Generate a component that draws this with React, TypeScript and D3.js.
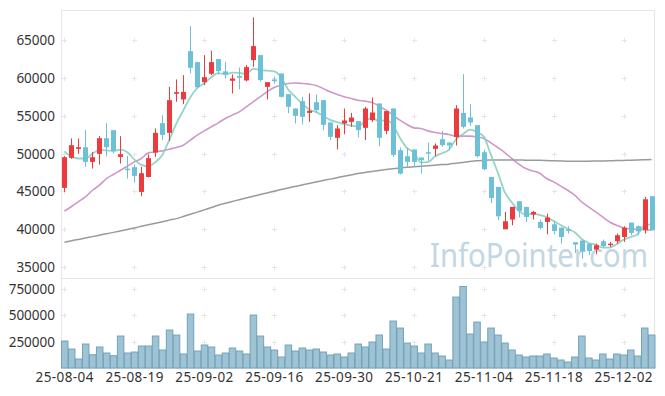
import React from "react";
import * as d3 from "d3";

const dates: string[] = [
  "25-08-04","25-08-05","25-08-06","25-08-07","25-08-08",
  "25-08-11","25-08-12","25-08-13","25-08-14",
  "25-08-18","25-08-19","25-08-20","25-08-21","25-08-22",
  "25-08-25","25-08-26","25-08-27","25-08-28","25-08-29",
  "25-09-01","25-09-02","25-09-03","25-09-04","25-09-05",
  "25-09-08","25-09-09","25-09-10","25-09-11","25-09-12",
  "25-09-15","25-09-16","25-09-17","25-09-18","25-09-19",
  "25-09-22","25-09-23","25-09-24","25-09-25","25-09-26",
  "25-09-29","25-09-30","25-10-01","25-10-02","25-10-10",
  "25-10-13","25-10-14","25-10-15","25-10-16","25-10-17",
  "25-10-20","25-10-21","25-10-22","25-10-23","25-10-24",
  "25-10-27","25-10-28","25-10-29","25-10-30","25-10-31",
  "25-11-03","25-11-04","25-11-05","25-11-06","25-11-07",
  "25-11-10","25-11-11","25-11-12","25-11-13","25-11-14",
  "25-11-17","25-11-18","25-11-19","25-11-20","25-11-21",
  "25-11-24","25-11-25","25-11-26","25-11-27","25-11-28",
  "25-12-01","25-12-02","25-12-03","25-12-04","25-12-05",
  "25-12-08",
];

const opens: number[] = [
  45460, 49430, 50620, 50840, 48900, 49960, 52030, 53090, 49560, 48000,
  48210, 44930, 46910, 50140, 54020, 52740, 57900, 57150, 63545, 62090,
  59440, 60540, 62490, 60860, 59620, 60240, 59670, 62360, 63020, 58820,
  59800, 60590, 57860, 55960, 56930, 55380, 56800, 57060, 54110, 52080,
  53980, 54190, 54290, 53400, 54420, 56620, 53000, 55960, 50450, 49650,
  50540, 49480, 50180, 50620, 51900, 51460, 52170, 55380, 54770, 53760,
  50180, 46910, 45590, 39990, 41280, 43700, 42950, 41940, 40960, 40960,
  40650, 40210, 39960, 38280, 38500, 38090, 37310, 38410, 37970, 38410,
  38970, 40870, 40400, 39860, 44360,
];
const highs: number[] = [
  49650, 52000, 52000, 53090, 50220, 52300, 54020, 53090, 52300, 49700,
  48550, 48240, 49880, 53320, 55080, 58820, 59800, 60370, 66850, 62090,
  63020, 63590, 62490, 62130, 60460, 61390, 61700, 68000, 63020, 59440,
  60150, 60590, 57860, 55960, 57500, 57950, 57820, 57060, 54110, 53760,
  55960, 55380, 54290, 56180, 57420, 56620, 55610, 55960, 50800, 50760,
  50540, 49480, 51460, 51330, 53000, 51460, 56400, 60500, 56530, 53760,
  50540, 46910, 45590, 42290, 42950, 43700, 42950, 42420, 41280, 42070,
  41090, 40210, 40390, 38280, 38600, 38090, 38090, 38630, 38320, 39420,
  40390, 40870, 40500, 44270, 44360,
];
const lows: number[] = [
  44930, 49300, 49950, 48240, 48020, 48550, 49610, 50000, 48680, 46700,
  46170, 44360, 46850, 49560, 51770, 51640, 56840, 56530, 60600, 58610,
  59050, 60370, 60460, 59930, 57950, 58480, 59530, 61470, 59490, 57150,
  59270, 57400, 55320, 53980, 53850, 54190, 55500, 53090, 51770, 50540,
  52560, 53530, 52130, 51770, 54190, 50980, 52560, 49560, 47230, 48160,
  48240, 47360, 49030, 49650, 50900, 50450, 51070, 53320, 53660, 49480,
  47800, 43470, 41180, 39990, 40520, 41540, 40960, 41280, 39960, 39330,
  39330, 38090, 39420, 36870, 36100, 36560, 36690, 37570, 37660, 38090,
  38320, 39200, 39200, 39420, 39860,
];
const closes: number[] = [
  49520, 51110, 50840, 48900, 49520, 52030, 50840, 50350, 49920, 47800,
  47050, 47400, 49390, 52740, 52470, 57060, 58120, 58160, 61340, 58780,
  60100, 62090, 60900, 60460, 59930, 60010, 61430, 64210, 59710, 59440,
  59570, 57500, 56180, 54990, 54860, 55650, 55740, 53800, 52210, 53320,
  54380, 54770, 53090, 55960, 55430, 52080, 55610, 49830, 47360, 48900,
  48900, 49120, 50050, 51070, 51110, 51070, 55960, 53530, 54110, 49650,
  47930, 44130, 41710, 41050, 42950, 42420, 41620, 42290, 40170, 41540,
  39770, 38970, 39770, 37970, 37050, 37120, 37880, 37750, 38090, 39200,
  40210, 39510, 39700, 43960, 39860,
];
const volumes: number[] = [
  254700, 179200, 84900, 226400, 125500, 198100, 141500, 116000, 301900, 141500,
  150900, 207500, 207500, 301900, 169800, 358500, 311300, 132100, 509400, 160400,
  217000, 198100, 122600, 141500, 188700, 160400, 132100, 500000, 301900, 198100,
  169800, 103800, 217000, 160400, 188700, 169800, 179200, 150900, 122600, 132100,
  103800, 141500, 226400, 198100, 245300, 311300, 179200, 443400, 377400, 235800,
  207500, 141500, 226400, 141500, 113200, 75500, 669800, 770000, 320800, 434000,
  245300, 377400, 311300, 235800, 169800, 122600, 103800, 113200, 113200, 132100,
  94300, 75500, 56600, 103800, 301900, 94300, 75500, 132100, 84900, 132100,
  122600, 169800, 113200, 377400, 311300,
];

// MA5 values for the first four sessions (later values use closes)
const ma5Head: number[] = [50300, 49600, 49350, 49350];

const ma20: number[] = [
  42400, 43000, 43650, 44270, 45150, 45820, 46700, 47230, 47800, 48330,
  48900, 49350, 50090, 50220, 50360, 50580, 50800, 51110, 51770, 52430,
  53000, 53530, 54060, 54640, 55080, 55520, 56180, 56840, 57500, 58160,
  58740, 59050, 59270, 59320, 59270, 59180, 59000, 58610, 58160, 57820,
  57500, 57290, 57060, 56930, 56760, 56310, 55740, 55080, 54420, 53850,
  53400, 53320, 53000, 52790, 52650, 52520, 52300, 52300, 52300, 52210,
  52000, 51420, 50800, 50140, 49350, 48600, 48020, 47710, 47400, 46700,
  46260, 45690, 45150, 44500, 43610, 42950, 42290, 41620, 40960, 40520,
  40170, 40040, 39960, 39960, 39860,
];

const ma120: number[] = [
  38280, 38470, 38650, 38840, 39020, 39210, 39400, 39580, 39770, 39970,
  40170, 40380, 40580, 40790, 40990, 41200, 41400, 41680, 41970, 42260,
  42560, 42860, 43170, 43420, 43660, 43900, 44130, 44360, 44580, 44800,
  45020, 45240, 45450, 45650, 45850, 46050, 46240, 46430, 46620, 46810,
  47000, 47180, 47360, 47500, 47640, 47770, 47890, 48000, 48100, 48190,
  48260, 48330, 48400, 48470, 48540, 48600, 48720, 48830, 48940, 49040,
  49120, 49140, 49150, 49150, 49150, 49140, 49130, 49120, 49110, 49080,
  49050, 49020, 49000, 48990, 48990, 49000, 49010, 49030, 49050, 49070,
  49100, 49130, 49160, 49190, 49210,
];

const priceTicks: number[] = [35000, 40000, 45000, 50000, 55000, 60000, 65000];
const volumeTicks: number[] = [250000, 500000, 750000];
const tickEvery = 10;

const W = 665;
const H = 396;
const L = 61;
const R = 655;
const P_TOP = 10;
const P_BOT = 278;
const V_BOT = 368;

const UP = "#ec3b3d";
const DOWN = "#6cc1d6";

export default function App() {
  const idx = d3.range(closes.length);
  const x = d3.scaleBand<number>().domain(idx).range([L, R]).padding(0);
  const bw = x.bandwidth();
  const cx = (i: number) => (x(i) as number) + bw / 2;
  const y = d3.scaleLinear().domain([33550, 68980]).range([P_BOT, P_TOP]);
  const yv = d3.scaleLinear().domain([0, 850000]).range([V_BOT, P_BOT]);

  const ma5 = idx.map((i) =>
    i < 4 ? ma5Head[i] : (d3.mean(closes.slice(i - 4, i + 1)) as number)
  );

  const line = d3
    .line<number>()
    .x((_, i) => cx(i))
    .y((d) => y(d))
    .curve(d3.curveMonotoneX);

  const xTicks = idx.filter((i) => i % tickEvery === 0);
  const font = "'Noto Sans', sans-serif";
  const bodyW = 5;

  const plus = (px: number, py: number, k: string) => (
    <g key={k} stroke="#e6e6e6" strokeWidth={1}>
      <line x1={px - 2.5} x2={px + 2.5} y1={py} y2={py} />
      <line x1={px} x2={px} y1={py - 2.5} y2={py + 2.5} />
    </g>
  );

  return (
    <svg
      width={W}
      height={H}
      style={{ position: "absolute", left: 0, top: 0, background: "#fff" }}
      fontFamily={font}
    >
      {/* panel frames */}
      <rect x={L + 0.5} y={P_TOP + 0.5} width={R - L - 1} height={P_BOT - P_TOP} fill="none" stroke="#e6e6e6" />
      <rect x={L + 0.5} y={P_BOT + 0.5} width={R - L - 1} height={V_BOT - P_BOT} fill="none" stroke="#e6e6e6" />

      {/* grid plus marks */}
      {xTicks.map((i) =>
        priceTicks.map((t) => plus(Math.round(cx(i)) + 0.5, Math.round(y(t)) + 0.5, `p${i}-${t}`))
      )}
      {xTicks.map((i) =>
        volumeTicks.map((t) => plus(Math.round(cx(i)) + 0.5, Math.round(yv(t)) + 0.5, `v${i}-${t}`))
      )}

      {/* watermark */}
      <text
        x={430}
        y={267}
        fontSize={32}
        fill="#c3d6e3"
        textLength={218}
        lengthAdjust="spacingAndGlyphs"
        fontFamily={font}
      >
        InfoPointer.com
      </text>

      {/* moving averages */}
      <path d={line(ma120) || ""} fill="none" stroke="#8f8f8f" strokeWidth={1.5} opacity={0.9} />
      <path d={line(ma20) || ""} fill="none" stroke="#c586c0" strokeWidth={1.6} opacity={0.85} />
      <path d={line(ma5) || ""} fill="none" stroke="#86cbbd" strokeWidth={1.8} opacity={0.85} />

      {/* candles */}
      {idx.map((i) => {
        const o = opens[i];
        const c = closes[i];
        const col = c >= o ? UP : DOWN;
        const top = y(Math.max(o, c));
        const bot = y(Math.min(o, c));
        const xc = Math.round(cx(i)) + 0.5;
        return (
          <g key={`c${i}`}>
            <line x1={xc} x2={xc} y1={y(highs[i])} y2={y(lows[i])} stroke={col} strokeWidth={1} />
            <rect x={xc - bodyW / 2} y={top} width={bodyW} height={Math.max(1.5, bot - top)} fill={col} />
          </g>
        );
      })}

      {/* volume bars */}
      {idx.map((i) => (
        <rect
          key={`v${i}`}
          x={(x(i) as number) + 0.5}
          y={yv(volumes[i])}
          width={bw - 0.5}
          height={V_BOT - yv(volumes[i])}
          fill="#93bccf"
          fillOpacity={0.9}
          stroke="#73a2b9"
          strokeWidth={1}
        />
      ))}

      {/* y axis labels */}
      {priceTicks.map((t) => (
        <text key={`pt${t}`} x={55} y={y(t)} textAnchor="end" dominantBaseline="central" fontSize={13.5} fill="#333">
          {t}
        </text>
      ))}
      {volumeTicks.map((t) => (
        <text key={`vt${t}`} x={55} y={yv(t)} textAnchor="end" dominantBaseline="central" fontSize={13.5} fill="#333">
          {t}
        </text>
      ))}

      {/* x axis labels */}
      {xTicks.map((i) => (
        <text
          key={`xt${i}`}
          x={cx(i) - 29}
          y={382}
          fontSize={13.5}
          fill="#333"
          textLength={58}
          lengthAdjust="spacing"
        >
          {dates[i]}
        </text>
      ))}
    </svg>
  );
}
